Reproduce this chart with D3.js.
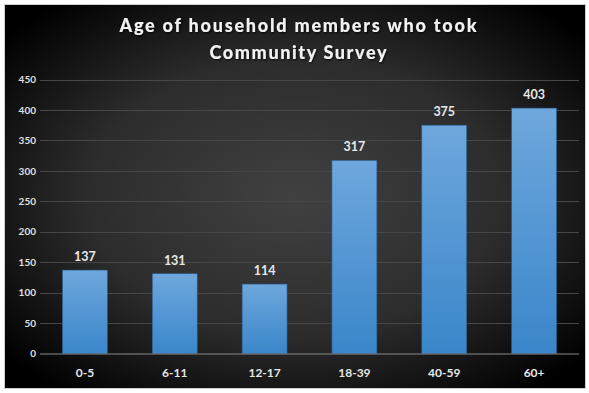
<!DOCTYPE html>
<html><head><meta charset="utf-8">
<script src="https://cdn.jsdelivr.net/npm/d3@7"></script>
<style>html,body{margin:0;padding:0;background:#fff;}svg{display:block;}</style>
</head><body>
<script>
const categories = ["0-5","6-11","12-17","18-39","40-59","60+"];
const values = [137,131,114,317,375,403];
const yTicks = [0,50,100,150,200,250,300,350,400,450];
const titleLines = ["Age of household members who took","Community Survey"];

const W = 589, H = 393;
const svg = d3.select("body").append("svg").attr("width",W).attr("height",H);
const defs = svg.append("defs");
const rg = defs.append("radialGradient").attr("id","bg").attr("cx","50%").attr("cy","50%").attr("r","65%");
rg.append("stop").attr("offset","0%").attr("stop-color","#414141");
rg.append("stop").attr("offset","55%").attr("stop-color","#2c2c2c");
rg.append("stop").attr("offset","100%").attr("stop-color","#000");
const bg = defs.append("linearGradient").attr("id","bar").attr("x1",0).attr("y1",0).attr("x2",0).attr("y2",1);
bg.append("stop").attr("offset","0%").attr("stop-color","#6ea7dc");
bg.append("stop").attr("offset","100%").attr("stop-color","#3a86ca");
const f = defs.append("filter").attr("id","sh").attr("x","-10%").attr("y","-30%").attr("width","120%").attr("height","160%");
f.append("feDropShadow").attr("dx",1).attr("dy",1).attr("stdDeviation",1).attr("flood-color","#000").attr("flood-opacity",0.8);

svg.append("rect").attr("x",4.5).attr("y",4.5).attr("width",581).attr("height",384)
  .attr("fill","url(#bg)").attr("stroke","#cfcfcf").attr("stroke-width",1);

const x = d3.scaleBand().domain(categories).range([40,579]).paddingInner(0.5).paddingOuter(0.25);
const y = d3.scaleLinear().domain([0,450]).range([353.5,79.5]);

const font = "Lato, 'Open Sans', sans-serif";

// gridlines
svg.append("g").selectAll("line").data(yTicks.filter(d=>d>0)).join("line")
  .attr("x1",40).attr("x2",579).attr("y1",d=>Math.round(y(d))+0.5).attr("y2",d=>Math.round(y(d))+0.5)
  .attr("stroke","#474747").attr("stroke-width",1);

// y axis
const ya = svg.append("g").attr("transform","translate(36,0)")
  .call(d3.axisLeft(y).tickValues(yTicks).tickSize(0).tickPadding(0));
ya.select(".domain").remove();
ya.selectAll("text").attr("fill","#e0e0e0").attr("font-family",font).attr("font-weight","bold").attr("font-size","10px");

// bars
svg.append("g").selectAll("rect").data(values).join("rect")
  .attr("x",(d,i)=>x(categories[i])).attr("width",x.bandwidth())
  .attr("y",d=>y(d)).attr("height",d=>y(0)-y(d))
  .attr("fill","url(#bar)").attr("stroke","#2a5f90").attr("stroke-width",0.6);

// value labels
svg.append("g").selectAll("text").data(values).join("text")
  .attr("x",(d,i)=>x(categories[i])+x.bandwidth()/2).attr("y",d=>y(d)-9)
  .attr("text-anchor","middle").attr("fill","#e8e8e8").attr("font-family",font)
  .attr("font-weight","bold").attr("font-size","12.5px").text(d=>d);

// baseline
svg.append("line").attr("x1",40).attr("x2",579).attr("y1",354).attr("y2",354)
  .attr("stroke","#8a8a8a").attr("stroke-width",1.2);

// x axis
const xa = svg.append("g").attr("transform","translate(0,354)")
  .call(d3.axisBottom(x).tickSize(0).tickPadding(14));
xa.select(".domain").remove();
xa.selectAll("text").attr("fill","#e6e6e6").attr("font-family",font).attr("font-weight","bold").attr("font-size","12px");

// title
const titleWidths = [357, 177];
svg.append("g").selectAll("text").data(titleLines).join("text")
  .attr("x",298).attr("y",(d,i)=>32+i*27).attr("text-anchor","middle")
  .attr("fill","#f2f2f2").attr("font-family",font).attr("font-weight","900").attr("font-size","18px")
  .attr("textLength",(d,i)=>titleWidths[i]).attr("lengthAdjust","spacing")
  .attr("filter","url(#sh)").text(d=>d);
</script>
</body></html>
